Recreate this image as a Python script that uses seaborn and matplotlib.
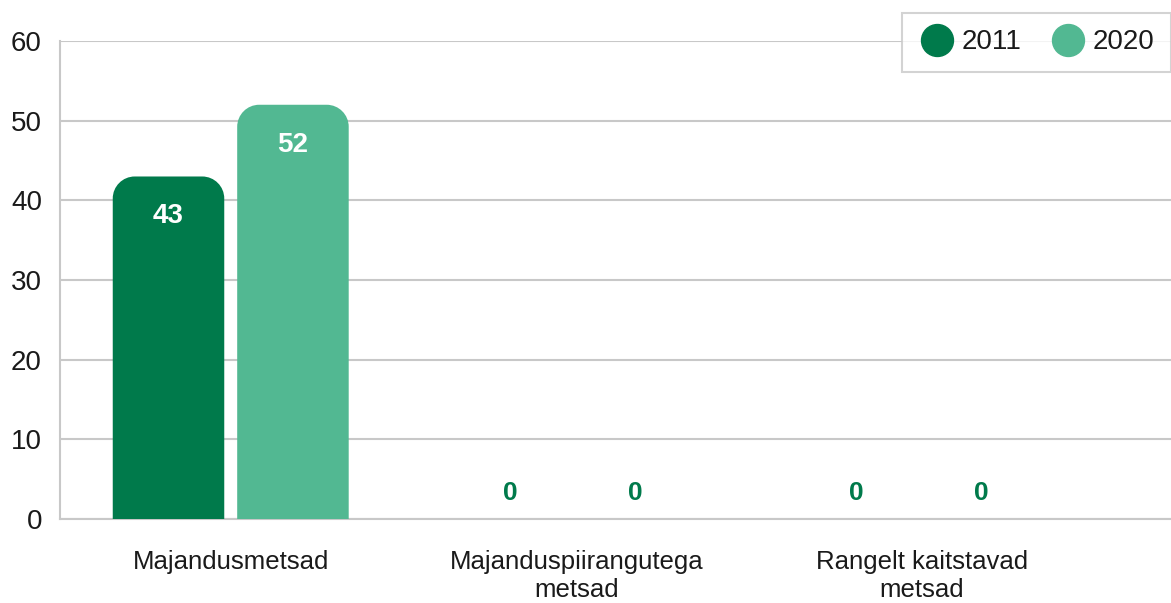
import numpy as np
import pandas as pd
import matplotlib
matplotlib.use("Agg")
import matplotlib.pyplot as plt
from matplotlib.path import Path
from matplotlib.patches import PathPatch
from matplotlib.lines import Line2D
import seaborn as sns

categories = ["Majandusmetsad", "Majanduspiirangutega\nmetsad", "Rangelt kaitstavad\nmetsad"]
years = ["2011", "2020"]
values_2011 = [43, 0, 0]
values_2020 = [52, 0, 0]
colors = ["#007A4B", "#52B892"]

df = pd.DataFrame({
    "category": categories * 2,
    "year": [years[0]] * 3 + [years[1]] * 3,
    "value": values_2011 + values_2020,
})

sns.set_style("white")
plt.rcParams["font.family"] = ["Liberation Sans", "DejaVu Sans"]
plt.rcParams["text.color"] = "#1a1a1a"
plt.rcParams["xtick.color"] = "#1a1a1a"
plt.rcParams["ytick.color"] = "#1a1a1a"

fig = plt.figure(figsize=(11.71, 6.03), dpi=100)
ax = fig.add_axes([0.0512, 0.139, 0.9488, 0.793])

sns.barplot(data=df, x="category", y="value", hue="year", palette=colors,
            width=0.72, gap=0.104, ax=ax, legend=False, saturation=1)

ax.set_xlim(-0.494, 2.72)
ax.set_ylim(0, 60)
ax.set_yticks(range(0, 61, 10))
ax.grid(axis="y", color="#c8c8c8", linewidth=1.5)
ax.set_axisbelow(True)
for s in ["top", "right"]:
    ax.spines[s].set_visible(False)
for s in ["left", "bottom"]:
    ax.spines[s].set_color("#c8c8c8")
    ax.spines[s].set_linewidth(1.5)
ax.tick_params(axis="y", length=0, pad=13, labelsize=20)
ax.tick_params(axis="x", length=0, pad=22, labelsize=18.5)
ax.set_xlabel("")
ax.set_ylabel("")
for lab in ax.get_xticklabels():
    lab.set_linespacing(1.25)

# rounded top corners, radius in pixels
fig.canvas.draw()
px_x = ax.transData.transform((1, 0))[0] - ax.transData.transform((0, 0))[0]
px_y = ax.transData.transform((0, 1))[1] - ax.transData.transform((0, 0))[1]
r = 22
rx, ry = r / px_x, r / px_y
k = 0.5523
bars = list(ax.patches)
for p in bars:
    x0, y0 = p.get_x(), p.get_y()
    w, h = p.get_width(), p.get_height()
    fc = p.get_facecolor()
    if h > 0:
        x1, y1 = x0 + w, y0 + h
        verts = [(x0, y0), (x0, y1 - ry),
                 (x0, y1 - ry + k * ry), (x0 + rx - k * rx, y1), (x0 + rx, y1),
                 (x1 - rx, y1),
                 (x1 - rx + k * rx, y1), (x1, y1 - ry + k * ry), (x1, y1 - ry),
                 (x1, y0), (x0, y0)]
        codes = [Path.MOVETO, Path.LINETO,
                 Path.CURVE4, Path.CURVE4, Path.CURVE4,
                 Path.LINETO,
                 Path.CURVE4, Path.CURVE4, Path.CURVE4,
                 Path.LINETO, Path.CLOSEPOLY]
        ax.add_patch(PathPatch(Path(verts, codes), facecolor=fc, edgecolor="none", zorder=3))
        ax.text(x0 + w / 2, y1 - 5.0, f"{h:.0f}", ha="center", va="center",
                color="white", fontsize=20, fontweight="bold", zorder=4)
    else:
        ax.text(x0 + w / 2 - 0.01, 3.25, f"{h:.0f}", ha="center", va="center",
                color=colors[0], fontsize=19, fontweight="bold", zorder=4)
    p.remove()

handles = [Line2D([0], [0], marker="o", linestyle="none", markersize=23,
                  markerfacecolor=c, markeredgecolor=c) for c in colors]
leg = ax.legend(handles, years, loc="upper right", bbox_to_anchor=(1.0, 1.059),
                borderaxespad=0, ncol=2, frameon=True, fancybox=False, fontsize=20,
                handletextpad=0.25, columnspacing=1.0, borderpad=0.6,
                handlelength=1.3)
leg.get_frame().set_edgecolor("#c8c8c8")
leg.get_frame().set_linewidth(1.5)

fig.savefig("out.png", dpi=100)
